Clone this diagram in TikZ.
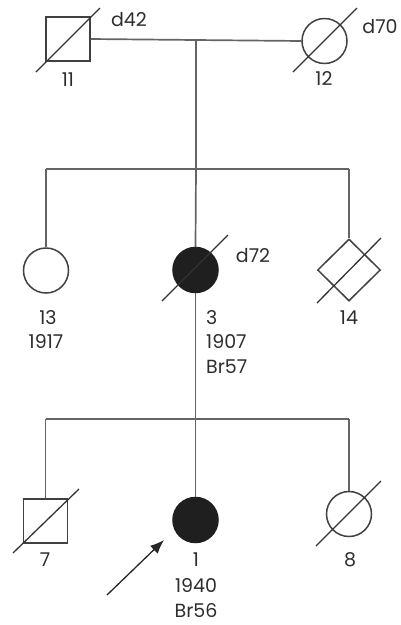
\documentclass[tikz,border=0pt]{standalone}
\usepackage{fontspec}
\setmainfont{Poppins}
\usetikzlibrary{arrows.meta,shapes.geometric}
\definecolor{ln}{RGB}{100,100,100}
\definecolor{sh}{RGB}{65,65,65}
\definecolor{tx}{RGB}{45,45,45}
\begin{document}
\begin{tikzpicture}[x=1pt,y=-1pt,
  line/.style={draw=ln,line width=1.7pt},
  male/.style={draw=sh,line width=1.5pt,rectangle,minimum size=44pt,inner sep=0pt,fill=white},
  female/.style={draw=sh,line width=1.5pt,circle,minimum size=45pt,inner sep=0pt,fill=white},
  affected/.style={fill=black!88,draw=black!88},
  unk/.style={draw=sh,line width=1.5pt,diamond,minimum width=63pt,minimum height=62pt,inner sep=0pt,fill=white},
  dead/.style={draw=black!80,line width=1.3pt},
  lbl/.style={font=\fontsize{19}{22}\selectfont,text=tx,inner sep=0pt}]
\useasboundingbox (0,0) rectangle (400,625);
% generation I
\node[male] (n11) at (68,39) {};
\node[female] (n12) at (324.5,41) {};
\coordinate (m1) at (196,41);
\coordinate (s1) at (196,169);
\coordinate (s1l) at (46,169);
\coordinate (s1r) at (349,169);
\draw[line] (n11.east) -- (n12.west);
\draw[line] (m1) -- (s1);
\draw[line] (s1l) -- (s1r);
\draw[dead] (36,72) -- (100,8);
\draw[dead] (293,72) -- (357,8);
\node[lbl] (t11) at (68,80) {11};
\node[lbl] (d42) at (129,20) {d42};
\node[lbl] (t12) at (324,79) {12};
\node[lbl] (d70) at (380,27) {d70};
% generation II
\node[female] (n13) at (46,270.5) {};
\node[female,affected] (n3) at (195.5,270) {};
\node[unk] (n14) at (349,270) {};
\draw[line] (s1l) -- (n13.north);
\draw[line] (s1) -- (n3.north);
\draw[line] (s1r) -- (n14.north);
\coordinate (s2) at (195.5,419);
\coordinate (s2l) at (45.5,419);
\coordinate (s2r) at (349,419);
\draw[line] (n3.south) -- (s2);
\draw[line] (s2l) -- (s2r);
\draw[dead] (162,301) -- (228,235);
\draw[dead] (317,303) -- (381,238);
\node[lbl] (t13) at (48,318) {13};
\node[lbl] (y13) at (46,342) {1917};
\node[lbl,anchor=west] (t3) at (206,318) {3};
\node[lbl,anchor=west] (y3) at (206,342) {1907};
\node[lbl,anchor=west] (b3) at (206,367) {Br57};
\node[lbl] (d72) at (253,256) {d72};
\node[lbl] (t14) at (349,318) {14};
% generation III
\node[male] (n7) at (45.5,521) {};
\node[female,affected] (n1) at (195.5,520) {};
\node[female] (n8) at (349,514) {};
\draw[line] (s2l) -- (n7.north);
\draw[line] (s2) -- (n1.north);
\draw[line] (s2r) -- (n8.north);
\draw[dead] (13,553) -- (79,489);
\draw[dead] (316,546) -- (381,481);
\node[lbl] (t7) at (45,560) {7};
\node[lbl] (t1) at (196,560) {1};
\node[lbl] (y1) at (196,586) {1940};
\node[lbl] (b1) at (196,610) {Br56};
\node[lbl] (t8) at (350,560) {8};
\coordinate (ar) at (107,595);
\draw[draw=black!85,line width=1.3pt,-{Latex[length=14pt,width=11pt]}] (ar) -- (164,540);
\end{tikzpicture}
\end{document}
